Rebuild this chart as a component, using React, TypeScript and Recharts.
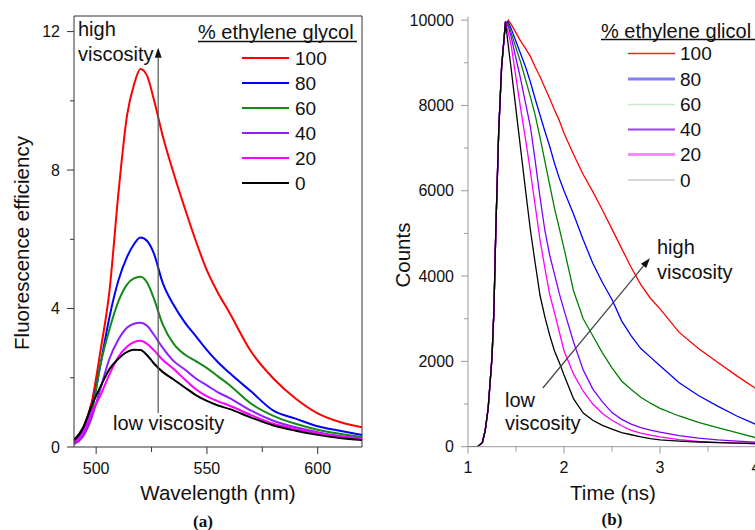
import React from 'react';
import { LineChart, Line, XAxis, YAxis, ReferenceLine } from 'recharts';

// ---------- Panel (a): fluorescence spectra ----------
const wavelengths = [490, 494, 498, 502, 506, 510, 514, 517, 520, 523, 526, 530, 535, 540, 545, 550, 555, 560, 570, 580, 590, 600, 610, 620];
const eff100 = [0.12, 0.5, 1.3, 2.8, 4.5, 7.3, 9.6, 10.45, 10.92, 10.72, 10.05, 9.0, 7.9, 6.9, 5.95, 5.1, 4.45, 3.9, 2.75, 1.98, 1.4, 0.97, 0.72, 0.57];
const eff80 = [0.1, 0.45, 1.1, 2.4, 3.75, 4.8, 5.5, 5.85, 6.05, 5.95, 5.6, 4.75, 4.1, 3.6, 3.2, 2.8, 2.45, 2.15, 1.6, 1.05, 0.82, 0.6, 0.47, 0.35];
const eff60 = [0.1, 0.4, 1.0, 2.4, 3.4, 4.2, 4.7, 4.87, 4.92, 4.75, 4.3, 3.55, 2.98, 2.67, 2.48, 2.28, 2.04, 1.8, 1.25, 0.9, 0.67, 0.5, 0.38, 0.29];
const eff40 = [0.08, 0.3, 0.85, 1.7, 2.55, 3.1, 3.45, 3.56, 3.59, 3.5, 3.25, 2.87, 2.48, 2.24, 1.98, 1.78, 1.58, 1.42, 1.05, 0.76, 0.57, 0.43, 0.32, 0.25];
const eff20 = [0.1, 0.4, 1.0, 1.5, 2.1, 2.6, 2.9, 3.03, 3.07, 2.98, 2.8, 2.52, 2.25, 1.95, 1.67, 1.46, 1.32, 1.2, 0.92, 0.67, 0.52, 0.4, 0.3, 0.23];
const eff0 = [0.2, 0.55, 1.2, 1.75, 2.25, 2.55, 2.75, 2.81, 2.8, 2.65, 2.42, 2.17, 1.95, 1.72, 1.5, 1.33, 1.2, 1.1, 0.85, 0.62, 0.47, 0.35, 0.26, 0.2];
const leftYTicks = [0, 2, 4, 6, 8, 10, 12];
const leftXTicks = [500, 525, 550, 575, 600];

// ---------- Panel (b): decay curves ----------
const times = [1.0, 1.1, 1.15, 1.18, 1.21, 1.25, 1.27, 1.29, 1.32, 1.35, 1.39, 1.42, 1.45, 1.5, 1.55, 1.6, 1.65, 1.7, 1.75, 1.8, 1.85, 1.9, 1.95, 2.0, 2.1, 2.2, 2.3, 2.4, 2.5, 2.6, 2.7, 2.8, 2.9, 3.0, 3.2, 3.4, 3.6, 3.8, 4.0, 4.2];
const counts100 = [0, 0, 100, 390, 900, 2100, 3200, 5100, 7400, 8900, 9900, 10000, 9900, 9700, 9500, 9330, 9150, 8900, 8680, 8420, 8170, 7900, 7650, 7350, 6850, 6380, 5980, 5550, 5100, 4650, 4200, 3800, 3480, 3230, 2680, 2300, 1980, 1660, 1360, 1150];
const counts80 = [0, 0, 100, 390, 900, 2100, 3200, 5100, 7400, 8900, 9950, 9950, 9800, 9500, 9200, 8900, 8550, 8150, 7775, 7400, 7050, 6650, 6300, 6000, 5450, 4850, 4300, 3850, 3450, 2950, 2600, 2300, 2100, 1900, 1500, 1200, 950, 720, 520, 400];
const counts60 = [0, 0, 100, 390, 900, 2100, 3200, 5100, 7400, 8900, 9950, 9900, 9700, 9350, 9000, 8600, 8200, 7775, 7250, 6700, 6150, 5600, 5130, 4650, 3650, 3000, 2600, 2200, 1850, 1540, 1340, 1160, 1020, 900, 720, 570, 450, 330, 210, 170];
const counts40 = [0, 0, 100, 390, 900, 2100, 3200, 5100, 7400, 8900, 9950, 9850, 9600, 9100, 8600, 8050, 7500, 6700, 5850, 5080, 4500, 4050, 3600, 3200, 2450, 1800, 1350, 1050, 800, 640, 530, 450, 390, 340, 260, 200, 160, 130, 105, 95];
const counts20 = [0, 0, 100, 390, 900, 2100, 3200, 5100, 7400, 8900, 9950, 9700, 9400, 8650, 7900, 7200, 6450, 5650, 4850, 4200, 3580, 3150, 2700, 2250, 1700, 1300, 1000, 780, 620, 490, 385, 320, 270, 230, 165, 125, 100, 85, 75, 70];
const counts0 = [0, 0, 100, 390, 900, 2100, 3200, 5100, 7400, 8900, 9950, 9400, 8850, 7900, 6950, 6000, 5080, 4300, 3550, 3050, 2620, 2250, 1980, 1680, 1120, 790, 620, 500, 410, 330, 280, 230, 190, 160, 130, 110, 95, 85, 75, 70];
const rightYTicks = [0, 1000, 2000, 3000, 4000, 5000, 6000, 7000, 8000, 9000, 10000];
const rightXTicks = [1, 1.5, 2, 2.5, 3, 3.5, 4];

const seriesLabels = ['100', '80', '60', '40', '20', '0'];

const leftData = wavelengths.map((w, i) => ({
  w, s100: eff100[i], s80: eff80[i], s60: eff60[i], s40: eff40[i], s20: eff20[i], s0: eff0[i],
}));
const rightData = times.map((t, i) => ({
  t, s100: counts100[i], s80: counts80[i], s60: counts60[i], s40: counts40[i], s20: counts20[i], s0: counts0[i],
}));

const FONT = "Arial, 'Liberation Sans', sans-serif";
const leftColors = ['#ff0000', '#0000ff', '#138a13', '#8f1fff', '#ff00ff', '#000000'];
const rightColors = ['#ff0000', '#0000ff', '#008000', '#8000ff', '#ff00ff', '#000000'];
const rightLegendColors = ['#ff2020', '#8080ff', '#c4e8cc', '#9a40ff', '#ff88ff', '#c8c8c8'];
const rightLegendWidths = [1.5, 3, 1.5, 2, 3, 1.5];
const keys = ['s100', 's80', 's60', 's40', 's20', 's0'];

const LEFT_AXIS = '#333333';
const RIGHT_AXIS = '#9a9a9a';

const makeYTick = (color: string, isMajor: (v: number) => boolean) => (props: any) => {
  const { x, y, payload } = props;
  const v = payload.value;
  const major = isMajor(v);
  return (
    <g>
      <line x1={x - (major ? 7 : 4)} x2={x} y1={y} y2={y} stroke={color} strokeWidth={1} />
      {major && (
        <text x={x - 14} y={y} textAnchor="end" dominantBaseline="central" fontSize={16} fontFamily={FONT} fill="#111">
          {v}
        </text>
      )}
    </g>
  );
};

const makeXTick = (color: string, isMajor: (v: number) => boolean) => (props: any) => {
  const { x, y, payload } = props;
  const v = payload.value;
  const major = isMajor(v);
  return (
    <g>
      <line x1={x} x2={x} y1={y} y2={y + (major ? 7 : 5)} stroke={color} strokeWidth={1} />
      {major && (
        <text x={x} y={y + 21} textAnchor="middle" dominantBaseline="central" fontSize={16} fontFamily={FONT} fill="#111">
          {v}
        </text>
      )}
    </g>
  );
};

const ArrowShape = (color: string) => (props: any) => {
  const { x1, y1, x2, y2 } = props;
  const ang = Math.atan2(y2 - y1, x2 - x1);
  const L = 10;
  const W = 3.5;
  const bx = x2 - L * Math.cos(ang);
  const by = y2 - L * Math.sin(ang);
  const px = -Math.sin(ang) * W;
  const py = Math.cos(ang) * W;
  return (
    <g>
      <line x1={x1} y1={y1} x2={bx} y2={by} stroke={color} strokeWidth={1.2} />
      <polygon points={`${x2},${y2} ${bx + px},${by + py} ${bx - px},${by - py}`} fill="#111" />
    </g>
  );
};

// annotation arrows (data coordinates)
const leftArrow = [{ x: 528, y: 0.98 }, { x: 528, y: 11.53 }];
const rightArrow = [{ x: 1.78, y: 1376 }, { x: 2.895, y: 4420 }];

const txt = (x: number, y: number, s: string, size = 20, anchor: 'start' | 'middle' | 'end' = 'start', extra: any = {}) => (
  <text x={x} y={y} fontSize={size} fontFamily={FONT} textAnchor={anchor} dominantBaseline="central" fill="#111" {...extra}>
    {s}
  </text>
);

export default function App() {
  const leftLegendY = [58, 83, 108, 133, 158, 183];
  const rightLegendY = [53.5, 79, 104.5, 129.5, 154.5, 180];
  return (
    <div style={{ position: 'absolute', left: 0, top: 0, width: 755, height: 530, overflow: 'hidden', background: '#fff' }}>
      <div style={{ position: 'absolute', left: 0, top: 0 }}>
        <LineChart width={380} height={530} data={leftData} margin={{ top: 16, right: 18, bottom: 53, left: 14 }}>
          <XAxis
            dataKey="w"
            type="number"
            domain={[490, 620]}
            ticks={leftXTicks}
            interval={0}
            height={30}
            tickSize={0}
            tickMargin={0}
            tickLine={false}
            axisLine={{ stroke: LEFT_AXIS }}
            tick={makeXTick(LEFT_AXIS, (v) => v % 50 === 0)}
            allowDataOverflow
          />
          <YAxis
            type="number"
            domain={[0, 12.45]}
            ticks={leftYTicks}
            interval={0}
            width={60}
            tickSize={0}
            tickMargin={0}
            tickLine={false}
            axisLine={{ stroke: LEFT_AXIS }}
            tick={makeYTick(LEFT_AXIS, (v) => v % 4 === 0)}
            allowDataOverflow
          />
          <ReferenceLine y={12.45} stroke={LEFT_AXIS} />
          <ReferenceLine x={620} stroke={LEFT_AXIS} />
          {keys.map((k, i) => (
            <Line key={k} dataKey={k} type="monotone" stroke={leftColors[i]} strokeWidth={2} dot={false} isAnimationActive={false} />
          ))}
          <ReferenceLine segment={leftArrow} shape={ArrowShape('#555')} />
        </LineChart>
      </div>
      <div style={{ position: 'absolute', left: 380, top: 0 }}>
        <LineChart width={420} height={530} data={rightData} margin={{ top: 16.7, right: 24.8, bottom: 53.3, left: 18 }}>
          <XAxis
            dataKey="t"
            type="number"
            domain={[1, 4.2]}
            ticks={rightXTicks}
            interval={0}
            height={30}
            tickSize={0}
            tickMargin={0}
            tickLine={false}
            axisLine={{ stroke: RIGHT_AXIS }}
            tick={makeXTick(RIGHT_AXIS, (v) => Number.isInteger(v))}
            allowDataOverflow
          />
          <YAxis
            type="number"
            domain={[0, 10080]}
            ticks={rightYTicks}
            interval={0}
            width={70}
            tickSize={0}
            tickMargin={0}
            tickLine={false}
            axisLine={{ stroke: RIGHT_AXIS }}
            tick={makeYTick(RIGHT_AXIS, (v) => v % 2000 === 0)}
            allowDataOverflow
          />
          {keys.map((k, i) => (
            <Line key={k} dataKey={k} type="linear" stroke={rightColors[i]} strokeWidth={1.3} dot={false} isAnimationActive={false} />
          ))}
          <ReferenceLine segment={rightArrow} shape={ArrowShape('#444')} />
        </LineChart>
      </div>
      <svg width={755} height={530} style={{ position: 'absolute', left: 0, top: 0, pointerEvents: 'none' }}>
        {/* left panel texts */}
        {txt(78, 29, 'high')}
        {txt(78, 54, 'viscosity')}
        {txt(113, 423, 'low viscosity')}
        {txt(198, 32, '% ethylene glycol')}
        <line x1={198} x2={357} y1={41.5} y2={41.5} stroke="#111" strokeWidth={1.3} />
        {seriesLabels.map((s, i) => (
          <g key={'ll' + s}>
            <line x1={242} x2={289} y1={leftLegendY[i]} y2={leftLegendY[i]} stroke={leftColors[i]} strokeWidth={2.2} />
            {txt(295, leftLegendY[i], s, 19)}
          </g>
        ))}
        {txt(218, 492, 'Wavelength (nm)', 20.5, 'middle')}
        {txt(21, 243, 'Fluorescence efficiency', 20.5, 'middle', { transform: 'rotate(-90 21 243)' })}
        <text x={203} y={521} fontSize={17} fontWeight="bold" fontFamily="'Liberation Serif', 'Times New Roman', serif" textAnchor="middle" dominantBaseline="central" fill="#111">(a)</text>

        {/* right panel texts */}
        {txt(601, 31, '% ethylene glicol')}
        <line x1={601} x2={760} y1={39.5} y2={39.5} stroke="#111" strokeWidth={1.3} />
        {seriesLabels.map((s, i) => (
          <g key={'rl' + s}>
            <line x1={628} x2={675} y1={rightLegendY[i]} y2={rightLegendY[i]} stroke={rightLegendColors[i]} strokeWidth={rightLegendWidths[i]} />
            {txt(680, rightLegendY[i], s, 19)}
          </g>
        ))}
        {txt(657, 246.7, 'high')}
        {txt(657, 271.7, 'viscosity')}
        {txt(505, 400, 'low')}
        {txt(505, 423.3, 'viscosity')}
        {txt(613, 492, 'Time (ns)', 20.5, 'middle')}
        {txt(402, 255, 'Counts', 20.5, 'middle', { transform: 'rotate(-90 402 255)' })}
        <text x={612} y={519} fontSize={17} fontWeight="bold" fontFamily="'Liberation Serif', 'Times New Roman', serif" textAnchor="middle" dominantBaseline="central" fill="#111">(b)</text>
      </svg>
    </div>
  );
}
